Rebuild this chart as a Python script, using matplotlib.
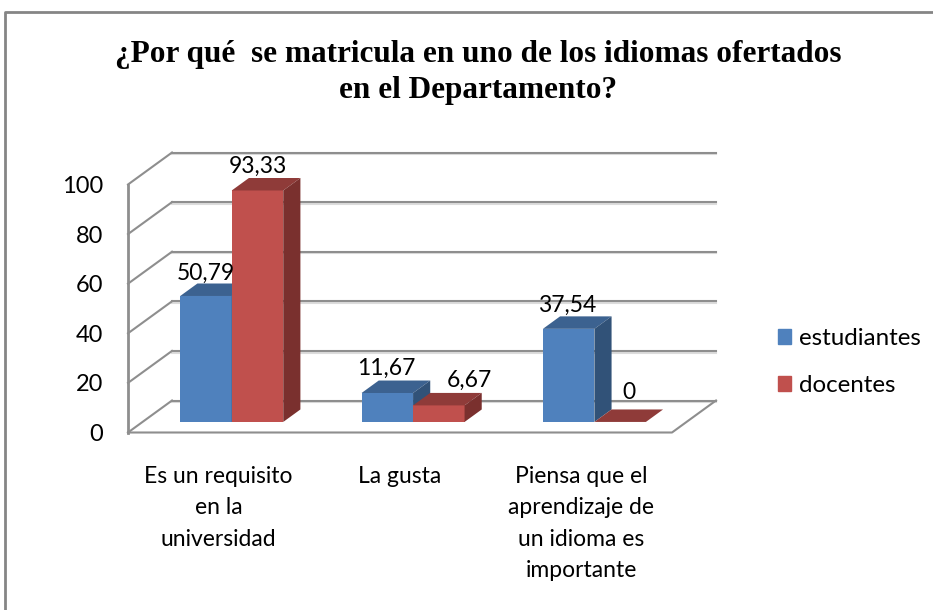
import matplotlib
matplotlib.use('Agg')
import matplotlib.pyplot as plt
from matplotlib.lines import Line2D
from matplotlib.patches import Polygon, Patch

categories = ['Es un requisito\nen la\nuniversidad', 'La gusta',
              'Piensa que el\naprendizaje de\nun idioma es\nimportante']
estudiantes = [50.79, 11.67, 37.54]
docentes = [93.33, 6.67, 0]
y_ticks = [0, 20, 40, 60, 80, 100]
title = '¿Por qué  se matricula en uno de los idiomas ofertados\nen el Departamento?'

W, H = 933, 610
GRID = '#8e8e8e'
BLUE = ('#4F81BD', '#3C6290', '#315278')
RED = ('#C0504D', '#8F3B39', '#7A302E')
FONT = 'Lato'

# projection of the depth axis, in data units
DX = 44 / 181.3
DY = 12.9
BAR_W = 0.284
GAP = 0.208
FRONT = 0.33   # where the bars start along the depth
DEPTH = 0.39   # how deep the bars are

fig = plt.figure(figsize=(W / 100, H / 100), dpi=100)
ax = fig.add_axes([128 / W, 1 - 432.5 / H, 544 / W, 248 / H])
ax.set_xlim(0, 3)
ax.set_ylim(0, 100)
ax.patch.set_alpha(0)
for s in ['top', 'right', 'bottom', 'left']:
    ax.spines[s].set_visible(False)

# outer frame of the chart, it runs off the picture right and below
fig.add_artist(Line2D([5 / W, 5 / W, 1], [0, 1 - 12 / H, 1 - 12 / H], color='#858585', lw=2))

# walls
for v in y_ticks:
    ax.plot([DX, 3 + DX], [v + DY - 0.7, v + DY - 0.7], color='#dcdcdc', lw=1.5, clip_on=False, zorder=1)
    ax.plot([DX, 3 + DX], [v + DY, v + DY], color=GRID, lw=1.5, clip_on=False, zorder=1.1)
    ax.plot([0, DX], [v, v + DY], color=GRID, lw=1.5, clip_on=False, zorder=1.1)
ax.plot([0, 0], [0, 100], color=GRID, lw=2, clip_on=False, zorder=1.2)
ax.plot([0, 3, 3 + DX], [0, 0, DY], color=GRID, lw=1.5, clip_on=False, zorder=1.2)


def bar3d(x, v, colors, z):
    x0 = x + FRONT * DX
    y0 = FRONT * DY
    dx = DEPTH * DX
    dy = DEPTH * DY
    ax.bar(x0, v, BAR_W, bottom=y0, align='edge', color=colors[0], zorder=z, clip_on=False)
    top = [(x0, y0 + v), (x0 + BAR_W, y0 + v), (x0 + BAR_W + dx, y0 + v + dy), (x0 + dx, y0 + v + dy)]
    ax.add_patch(Polygon(top, color=colors[1], lw=0, zorder=z, clip_on=False))
    side = [(x0 + BAR_W, y0), (x0 + BAR_W + dx, y0 + dy), (x0 + BAR_W + dx, y0 + v + dy), (x0 + BAR_W, y0 + v)]
    ax.add_patch(Polygon(side, color=colors[2], lw=0, zorder=z, clip_on=False))
    return x0 + BAR_W / 2, y0 + v


# nudges of the value labels in points, same order as the bars
shift_blue = [(0, 16.5), (-1, 17.5), (-1, 17)]
shift_red = [(0, 17.5), (22, 18), (6, 21.5)]

z = 2
for i in range(len(categories)):
    for vals, cols, width_i, shift in ((estudiantes, BLUE, 0, shift_blue), (docentes, RED, 1, shift_red)):
        cx, cy = bar3d(i + GAP + width_i * BAR_W, vals[i], cols, z)
        z += 1
        ax.annotate(f'{vals[i]:g}'.replace('.', ','), (cx, cy), xytext=shift[i], textcoords='offset points',
                    ha='center', va='center', fontsize=16.5, family=FONT, color='black',
                    zorder=20, annotation_clip=False)

ax.set_xticks([0.5, 1.5, 2.5])
ax.set_xticklabels(categories, fontsize=16.5, family=FONT, linespacing=1.62)
ax.set_yticks(y_ticks)
ax.set_yticklabels([str(v) for v in y_ticks], fontsize=17, family=FONT)
ax.tick_params(axis='x', length=0, pad=24, colors='black')
ax.tick_params(axis='y', length=0, pad=18, colors='black')

fig.text(478 / W, 1 - 72.5 / H, title, ha='center', va='center', fontsize=22.5, family='Liberation Serif',
         fontweight='bold', linespacing=1.3, color='black')

handles = [Patch(color=BLUE[0], label='estudiantes'), Patch(color=RED[0], label='docentes')]
fig.legend(handles=handles, loc='center left', bbox_to_anchor=(778 / W, 1 - 362 / H), frameon=False,
           prop={'family': FONT, 'size': 17.4}, handlelength=0.54, handleheight=0.54, handletextpad=0.33,
           labelspacing=1.08, borderpad=0, borderaxespad=0)

fig.savefig('out.png', dpi=100)
